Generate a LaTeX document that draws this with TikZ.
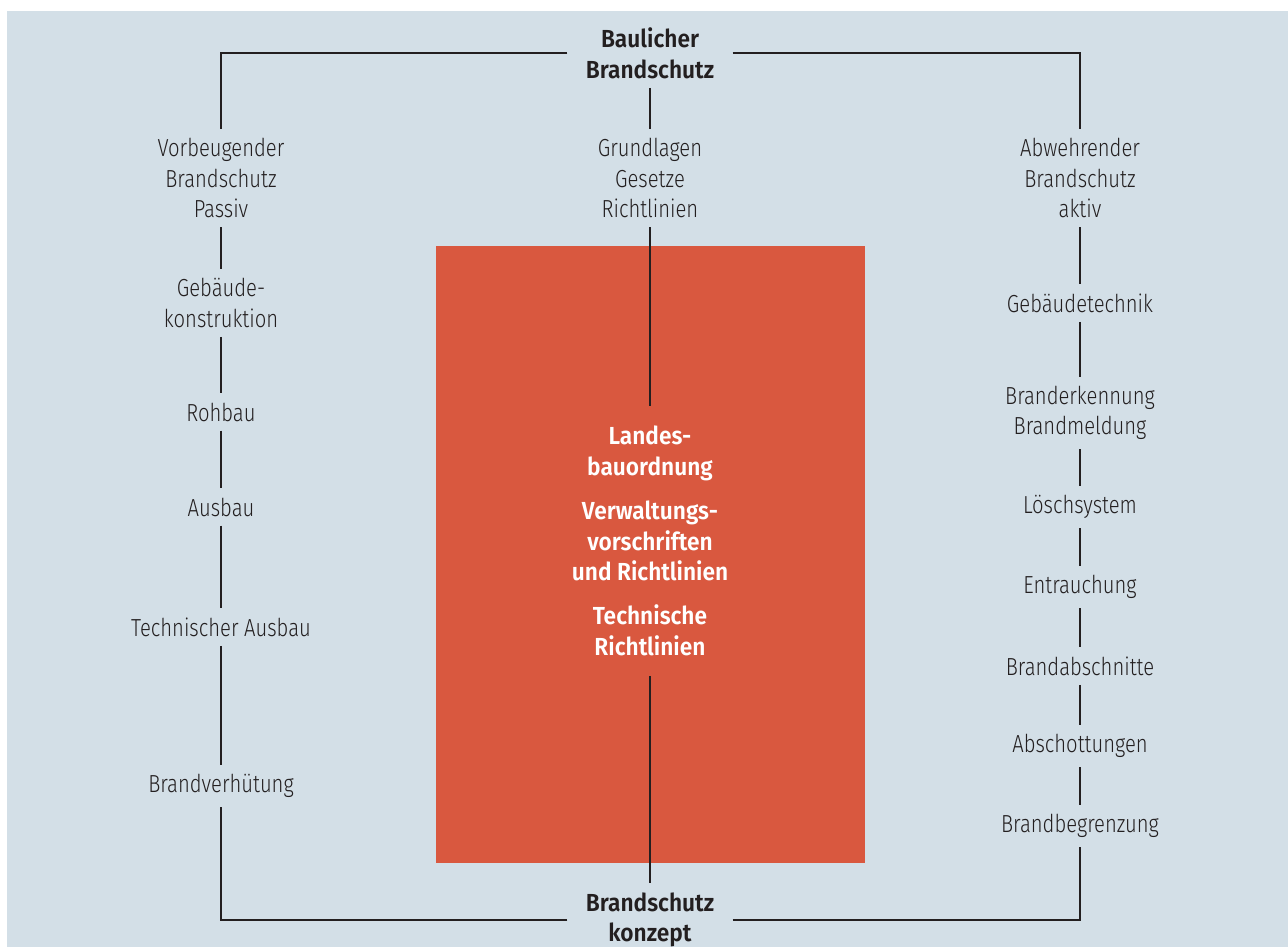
\documentclass[tikz,border=0pt]{standalone}
\usepackage{fontspec}
\setmainfont{Fira Sans}[UprightFont=* Light,BoldFont=* SemiBold,
  UprightFeatures={FakeStretch=0.82},BoldFeatures={FakeStretch=0.92}]
\definecolor{bgblue}{HTML}{D3DFE7}
\definecolor{firered}{HTML}{D9583F}
\definecolor{ink}{HTML}{231F20}
\begin{document}
\begin{tikzpicture}[x=0.75pt,y=-0.75pt,line width=2pt,
  lbl/.style={font=\fontsize{18.5}{23}\selectfont,align=center,text=ink,inner xsep=0pt,inner ysep=6pt},
  head/.style={lbl,font=\bfseries\fontsize{18.5}{23}\selectfont,inner xsep=13pt},
  law/.style={head,text=white,inner ysep=14pt},
  conn/.style={draw=ink}]
\useasboundingbox (0,0) rectangle (1288,947);
\fill[white] (0,0) rectangle (1288,947);
\fill[bgblue] (7,11) rectangle (1288,947);
\fill[firered] (436,246) rectangle (865,863);
% center
\node[head] (baulich) at (650,53) {Baulicher\\Brandschutz};
\node[lbl] (grund) at (650,178) {Grundlagen\\Gesetze\\Richtlinien};
\node[law] (recht) at (650,541) {Landes-\\bauordnung\\[10pt]Verwaltungs-\\vorschriften\\und Richtlinien\\[10pt]Technische\\Richtlinien};
\node[head] (konzept) at (650,920) {Brandschutz\\konzept};
% left column
\node[lbl] (vorb) at (221,178) {Vorbeugender\\Brandschutz\\Passiv};
\node[lbl] (gebkon) at (221,303) {Gebäude-\\konstruktion};
\node[lbl] (rohbau) at (221,412) {Rohbau};
\node[lbl] (ausbau) at (221,507) {Ausbau};
\node[lbl] (techaus) at (221,627) {Technischer Ausbau};
\node[lbl] (verhuet) at (221,786) {Brandverhütung};
% right column
\node[lbl] (abwehr) at (1080,178) {Abwehrender\\Brandschutz\\aktiv};
\node[lbl] (gebtech) at (1080,303) {Gebäudetechnik};
\node[lbl] (erkenn) at (1080,413) {Branderkennung\\Brandmeldung};
\node[lbl] (loesch) at (1080,507) {Löschsystem};
\node[lbl] (entrauch) at (1080,587) {Entrauchung};
\node[lbl] (abschn) at (1080,666) {Brandabschnitte};
\node[lbl] (abschott) at (1080,746) {Abschottungen};
\node[lbl] (begrenz) at (1080,826) {Brandbegrenzung};
% connectors
\draw[conn] (baulich) -| (vorb);
\draw[conn] (baulich) -| (abwehr);
\draw[conn] (konzept) -| (verhuet);
\draw[conn] (konzept) -| (begrenz);
\foreach \a/\b in {baulich/grund,grund/recht,recht/konzept,
  vorb/gebkon,gebkon/rohbau,rohbau/ausbau,ausbau/techaus,techaus/verhuet,
  abwehr/gebtech,gebtech/erkenn,erkenn/loesch,loesch/entrauch,entrauch/abschn,abschn/abschott,abschott/begrenz}
  \draw[conn] (\a) -- (\b);
\end{tikzpicture}
\end{document}
